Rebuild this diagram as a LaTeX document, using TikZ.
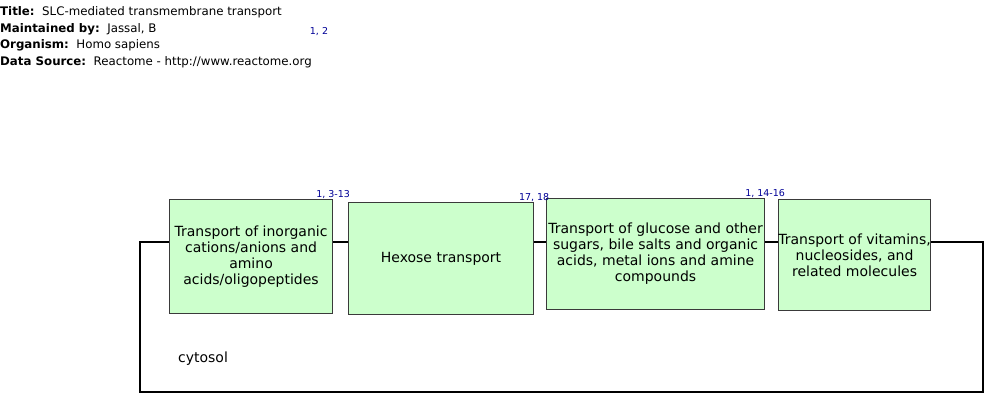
\documentclass[tikz,border=0pt]{standalone}
\usepackage{fontspec}
\setmainfont{DejaVu Sans}
\usepackage{xcolor}
\usetikzlibrary{positioning}
\definecolor{pathfill}{HTML}{CCFFCC}
\definecolor{pathedge}{HTML}{3A3A3A}
\definecolor{refblue}{HTML}{000096}
\tikzset{
  pathbox/.style={draw=pathedge,fill=pathfill,line width=1.1pt,anchor=north west,
                  inner sep=0pt,align=center,font=\fontsize{14}{16}\selectfont},
  pathtext/.style={inner sep=0pt,align=center,font=\fontsize{14}{16}\selectfont},
  reflabel/.style={text=refblue,inner sep=0pt,font=\fontsize{9.5}{11}\selectfont},
  headtext/.style={anchor=west,inner sep=0pt,font=\fontsize{11.8}{14}\selectfont},
  compartment/.style={draw=black,line width=2.2pt,anchor=north west,inner sep=0pt}
}
\begin{document}
\begin{tikzpicture}[x=1pt,y=-1pt]
  \useasboundingbox (0,0) rectangle (1000,410);
  % header
  \node[headtext] (title) at (0,12) {\textbf{Title:}\ \ SLC-mediated transmembrane transport};
  \node[headtext] (maint) at (0,29) {\textbf{Maintained by:}\ \ Jassal, B};
  \node[headtext] (organism) at (0,45) {\textbf{Organism:}\ \ Homo sapiens};
  \node[headtext] (source) at (0,62) {\textbf{Data Source:}\ \ Reactome - http://www.reactome.org};
  \node[reflabel] (ref12) at (319,32) {1, 2};

  % cytosol compartment
  \node[compartment,minimum width=843pt,minimum height=150pt] (cytosol) at (139,241) {};
  \node[font=\fontsize{14}{16}\selectfont,inner sep=0pt] (cytolabel) at (203,359) {cytosol};

  % pathway boxes
  \node[pathbox,minimum width=163pt,minimum height=114pt] (inorganic) at (169,199)
    {Transport of inorganic\\cations/anions and\\amino\\acids/oligopeptides};
  \node[pathbox,minimum width=185pt,minimum height=112pt] (hexose) at (348,202)
    {Hexose transport};
  \node[pathbox,minimum width=218pt,minimum height=111pt] (glucose) at (546,198) {};
  \node[pathtext] (glucosetext) at (glucose.center)
    {Transport of glucose and other\\sugars, bile salts and organic\\acids, metal ions and amine\\compounds};
  \node[pathbox,minimum width=152pt,minimum height=111pt] (vitamins) at (778,199) {};
  \node[pathtext] (vitaminstext) at (vitamins.center)
    {Transport of vitamins,\\nucleosides, and\\related molecules};

  % literature references
  \node[reflabel,anchor=south] (ref1) at (inorganic.north east) {1, 3-13};
  \node[reflabel,anchor=south] (ref2) at (hexose.north east) {17, 18};
  \node[reflabel,anchor=south] (ref3) at (glucose.north east) {1, 14-16};
\end{tikzpicture}
\end{document}
